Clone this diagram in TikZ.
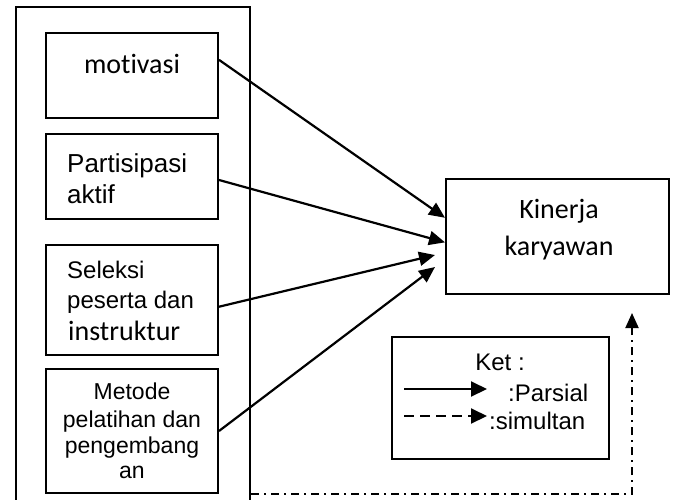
\documentclass[tikz,border=0pt]{standalone}
\usepackage{fontspec}
\setmainfont{Liberation Sans}
\newfontfamily\calfont[Ligatures=NoCommon]{Carlito}
\usetikzlibrary{arrows.meta,calc}
\begin{document}
\begin{tikzpicture}[x=1pt,y=-1pt,
  box/.style={draw,line width=2pt,inner sep=0pt,minimum width=#1},
  txt/.style={inner sep=0pt,anchor=base west},
  ctxt/.style={inner sep=0pt,anchor=base},
  arr/.style={line width=2.2pt,-{Triangle[length=16pt,width=14pt]}},
  ddash/.style={line width=2pt,dash pattern=on 8pt off 5pt on 2pt off 5pt,-{Triangle[length=15pt,width=13pt]}}]
\useasboundingbox (0,0) rectangle (674,499);
% outer box
\node[box=234pt,minimum height=530pt] (outer) at (133,272) {};
% inner boxes
\node[box=172pt,minimum height=85pt] (mot) at (132,75.5) {};
\node[box=172pt,minimum height=85pt] (par) at (132,176.5) {};
\node[box=172pt,minimum height=110pt] (sel) at (132,300) {};
\node[box=172pt,minimum height=124pt] (met) at (132,431) {};
\node[box=223pt,minimum height=115pt] (kin) at (557.5,236.5) {};
\node[box=217pt,minimum height=122pt] (ket) at (500.5,398) {};
% texts
\node[ctxt,font=\calfont\fontsize{28}{30}\selectfont] (tmot) at (132,73) {motivasi};
\node[txt,font=\fontsize{26}{30}\selectfont] (tpar1) at (67,172) {Partisipasi};
\node[txt,font=\fontsize{26}{30}\selectfont] (tpar2) at (67,203) {aktif};
\node[txt,font=\fontsize{24}{28}\selectfont] (tsel1) at (67,278) {Seleksi};
\node[txt,font=\fontsize{24}{28}\selectfont] (tsel2) at (67,308) {peserta dan};
\node[txt,font=\calfont\fontsize{28}{30}\selectfont] (tsel3) at (68,340) {instruktur};
\node[ctxt,font=\fontsize{23}{26}\selectfont] (tmet1) at (132,399) {Metode};
\node[ctxt,font=\fontsize{23}{26}\selectfont] (tmet2) at (132,427) {pelatihan dan};
\node[ctxt,font=\fontsize{23}{26}\selectfont] (tmet3) at (132,453) {pengembang};
\node[ctxt,font=\fontsize{23}{26}\selectfont] (tmet4) at (132,478) {an};
\node[ctxt,font=\calfont\fontsize{28}{30}\selectfont] (tkin1) at (559,218) {Kinerja};
\node[ctxt,font=\calfont\fontsize{28}{30}\selectfont] (tkin2) at (559,255) {karyawan};
\node[ctxt,font=\fontsize{24}{28}\selectfont] (tket) at (500,370) {Ket :};
\node[txt,font=\fontsize{24}{28}\selectfont] (tpars) at (508,401) {:Parsial};
\node[txt,font=\fontsize{24}{28}\selectfont] (tsim) at (489,429) {:simultan};
% arrows
\draw[arr] ($(mot.north east)!0.32!(mot.south east)$) -- ($(kin.north west)!0.34!(kin.south west)$);
\draw[arr] ($(par.north east)!0.54!(par.south east)$) -- ($(kin.north west)!0.55!(kin.south west)$);
\coordinate (e3) at (435,255);
\coordinate (e4) at (435,267);
\draw[arr] ($(sel.north east)!0.56!(sel.south east)$) -- (e3);
\draw[arr] (met.east) -- (e4);
% dash-dot connector
\coordinate (dd) at (632,313);
\draw[ddash] (outer.east |- met.south) -- (dd |- met.south) -- (dd);
% legend arrows
\coordinate (ls1) at (404,389);
\coordinate (le1) at (487,389);
\coordinate (ls2) at (404,416);
\coordinate (le2) at (487,416);
\draw[line width=2pt,-{Triangle[length=16pt,width=15pt]}] (ls1) -- (le1);
\draw[line width=2pt,dash pattern=on 10pt off 6pt,-{Triangle[length=16pt,width=15pt]}] (ls2) -- (le2);
\end{tikzpicture}
\end{document}
